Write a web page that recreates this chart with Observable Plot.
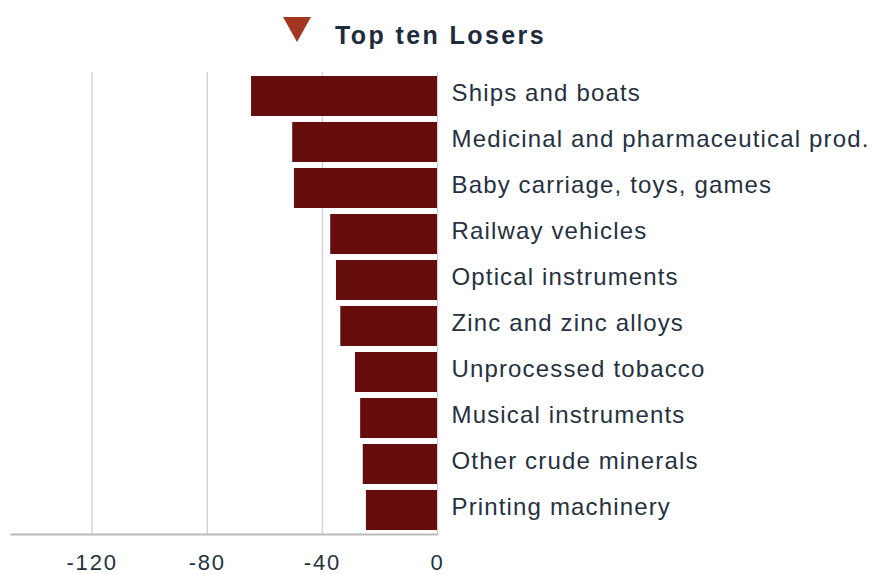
<!DOCTYPE html>
<html>
<head>
<meta charset="utf-8">
<script src="https://cdn.jsdelivr.net/npm/d3@7"></script>
<script src="https://cdn.jsdelivr.net/npm/@observablehq/plot@0.6"></script>
<style>
  html, body { margin: 0; padding: 0; background: #fff; }
  body { width: 874px; height: 574px; overflow: hidden; font-family: "Liberation Sans", Arial, sans-serif; }
  #header { position: relative; height: 60px; width: 874px; }
  #tri { position: absolute; left: 283px; top: 17px; width: 0; height: 0;
         border-left: 14px solid transparent; border-right: 14px solid transparent;
         border-top: 25px solid #a2361f; }
  #title { position: absolute; left: 335px; top: 20px; font-size: 25px; font-weight: bold;
           color: #1e2b3b; letter-spacing: 2.4px; line-height: 30px; white-space: nowrap; }
  #chart svg g[aria-label="y-axis tick label"] text { letter-spacing: 1.15px; }
  #chart svg g[aria-label="x-axis tick label"] text { letter-spacing: 1.8px; }
</style>
</head>
<body>
<div id="header"><div id="tri"></div><div id="title">Top ten Losers</div></div>
<div id="chart"></div>
<script>
const categories = [
  "Ships and boats",
  "Medicinal and pharmaceutical prod.",
  "Baby carriage, toys, games",
  "Railway vehicles",
  "Optical instruments",
  "Zinc and zinc alloys",
  "Unprocessed tobacco",
  "Musical instruments",
  "Other crude minerals",
  "Printing machinery"
];
const values = [-64.6, -50.3, -49.7, -37.1, -35.1, -33.6, -28.5, -26.7, -25.8, -24.7];
const xTicks = [-120, -80, -40, 0];
const xDomain = [-148, 0];

const data = categories.map((name, i) => ({name, value: values[i]}));

const chart = Plot.plot({
  width: 874,
  height: 514,
  marginLeft: 11,
  marginRight: 437,
  marginTop: 12,
  marginBottom: 40,
  style: {fontFamily: "'Liberation Sans', Arial, sans-serif", color: "#26313f", background: "#fff"},
  x: {domain: xDomain, ticks: xTicks, label: null},
  y: {domain: categories, paddingInner: 0.14, paddingOuter: 0.05, label: null},
  marks: [
    Plot.gridX(xTicks, {stroke: "#d4d4d4", strokeOpacity: 1, strokeWidth: 1.5}),
    Plot.barX(data, {x: "value", y: "name", fill: "#650c0c"}),
    Plot.frame({anchor: "bottom", stroke: "#b9b9b9", strokeWidth: 2}),
    Plot.axisX(xTicks, {anchor: "bottom", tickSize: 0, tickPadding: 20, fontSize: 22, fill: "#26313f", label: null, tickFormat: d => String(d)}),
    Plot.axisY({anchor: "right", tickSize: 0, tickPadding: 14, fontSize: 24, fill: "#26313f", dy: -3, label: null})
  ]
});
document.getElementById("chart").appendChild(chart);
</script>
</body>
</html>
